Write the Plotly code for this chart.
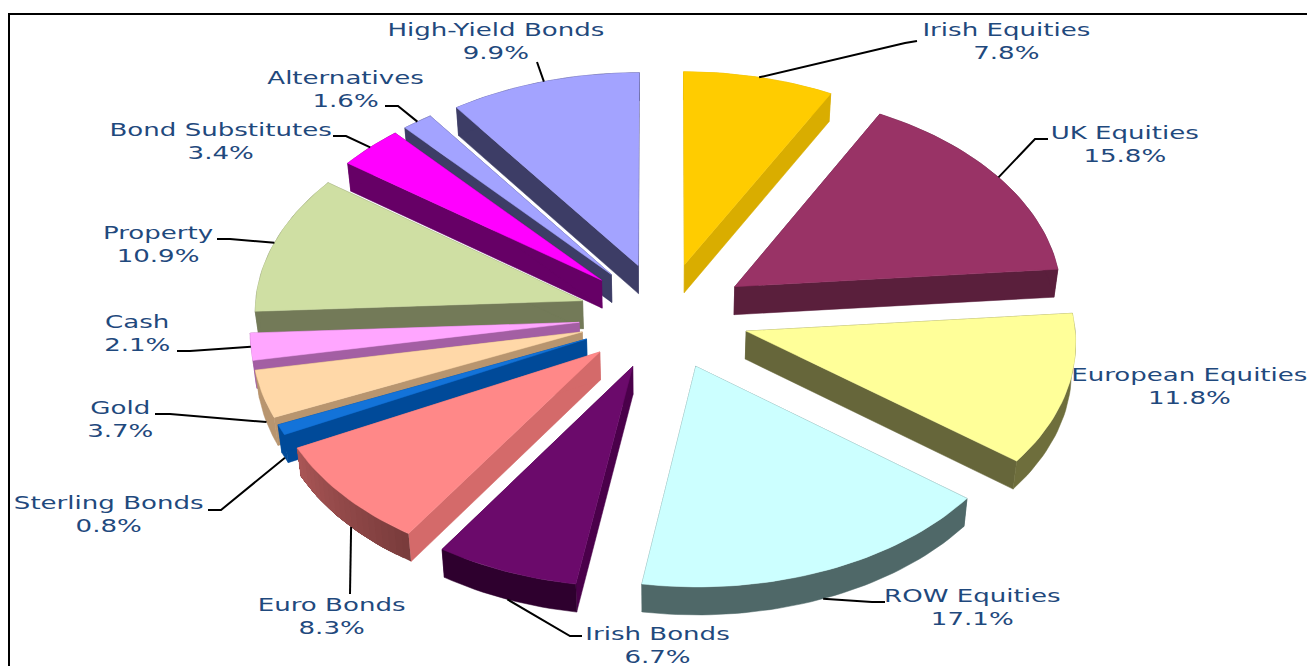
import math
import plotly.graph_objects as go

categories = ["Irish Equities", "UK Equities", "European Equities", "ROW Equities", "Irish Bonds",
              "Euro Bonds", "Sterling Bonds", "Gold", "Cash", "Property", "Bond Substitutes",
              "Alternatives", "High-Yield Bonds"]
values = [7.8, 15.8, 11.8, 17.1, 6.7, 8.3, 0.8, 3.7, 2.1, 10.9, 3.4, 1.6, 9.9]

top_colors = ["#FFCC00", "#993366", "#FFFF99", "#CCFFFF", "#6B0A6B", "#FF8888", "#1373D9",
              "#FFD8A8", "#FFA6FF", "#CFDFA3", "#FF00FF", "#A3A3FF", "#A3A3FF"]
wall_colors = ["#D9AD00", "#5A1F3C", "#66663A", "#506A6A", "#4A004A", "#D46A6A", "#004A99",
               "#B8956F", "#A35FA3", "#737A58", "#660066", "#3D3D66", "#3D3D66"]
arc_colors = ["#D9AD00", "#5A1F3C", "#6E6E3C", "#4F6868", "#2E002E", "#A85555", "#004A99",
              "#B8956F", "#A35FA3", "#737A58", "#660066", "#3D3D66", "#3D3D66"]
arc_end_colors = {"Euro Bonds": "#7A3C3C"}

# projection of the tilted pie onto the page
CX, CY, RX, RY, PERSP, PULL, DEPTH, SIDE_SHRINK = 664, 316, 328, 206, 0.045, 0.26, 28, 0.99
TEXT = "#1F497D"

# label centre and leader elbows, by category
label_pos = {"Irish Equities": (1006, 41), "UK Equities": (1125, 144), "European Equities": (1189, 386),
             "ROW Equities": (972, 607), "Irish Bonds": (657, 645), "Euro Bonds": (331, 616),
             "Sterling Bonds": (108, 514), "Gold": (120, 419), "Cash": (137, 333), "Property": (158, 244),
             "Bond Substitutes": (220, 141), "Alternatives": (345, 89), "High-Yield Bonds": (496, 41)}
elbows = {"Irish Equities": [(905, 43), (917, 41)], "UK Equities": [(1035, 139), (1048, 139)],
          "ROW Equities": [(872, 602), (885, 602)], "Irish Bonds": [(570, 636), (582, 636)],
          "Euro Bonds": [(350, 594)], "Sterling Bonds": [(221, 510), (208, 510)],
          "Gold": [(170, 414), (155, 414)], "Cash": [(190, 351), (177, 351)],
          "Property": [(230, 239), (217, 239)], "Bond Substitutes": [(346, 136), (333, 136)],
          "Alternatives": [(398, 106), (385, 106)], "High-Yield Bonds": [(537, 62)]}
# where along its rim each leader leaves its slice (0 = start, 1 = end)
leader_frac = {"Euro Bonds": 0.46}
rim_only = {"Cash"}


def project(X, Y, drop=0.0):
    s = 1 / (1 + PERSP * Y)
    if drop:
        s *= SIDE_SHRINK
    return CX + RX * X * s, CY - RY * Y * s / (SIDE_SHRINK if drop else 1) + drop


def mix(c0, c1, t):
    a = [int(c0[i:i + 2], 16) for i in (1, 3, 5)]
    b = [int(c1[i:i + 2], 16) for i in (1, 3, 5)]
    return "#" + "".join(f"{round(p + (q - p) * t):02X}" for p, q in zip(a, b))


total = sum(values)
fig = go.Figure()
slices = []
cum = 0.0
for name, v, tc, wc, ac in zip(categories, values, top_colors, wall_colors, arc_colors):
    a0 = cum / total * 2 * math.pi
    cum += v
    a1 = cum / total * 2 * math.pi
    slices.append((name, v, a0, a1, tc, wc, ac))


def add_poly(pts, color, name, width=0.5):
    xs = [p[0] for p in pts] + [pts[0][0]]
    ys = [p[1] for p in pts] + [pts[0][1]]
    fig.add_trace(go.Scatter(x=xs, y=ys, mode="lines", fill="toself", fillcolor=color,
                             line=dict(color=color, width=width), name=name,
                             hoverinfo="skip", showlegend=False))


for name, v, a0, a1, tc, wc, ac in sorted(slices, key=lambda s: -math.cos((s[2] + s[3]) / 2)):
    mid = (a0 + a1) / 2
    ox, oy = PULL * math.sin(mid), PULL * math.cos(mid)
    n = max(4, int((a1 - a0) * 40))
    ring = [(ox + math.sin(a0 + (a1 - a0) * i / n), oy + math.cos(a0 + (a1 - a0) * i / n)) for i in range(n + 1)]
    apex = (ox, oy)
    top = [project(*apex)] + [project(*p) for p in ring]
    w0 = [project(*apex), project(*ring[0]), project(*ring[0], DEPTH), project(*apex, DEPTH)]
    w1 = [project(*apex), project(*ring[-1]), project(*ring[-1], DEPTH), project(*apex, DEPTH)]
    add_poly(w0, wc, name)
    add_poly(w1, wc, name)
    if name in arc_end_colors:
        # painted from the far end with each band reaching all the way across, so no seams show
        for i in range(n):
            band = ring[i:]
            seg = [project(*p) for p in band] + [project(*p, DEPTH) for p in reversed(band)]
            add_poly(seg, mix(arc_end_colors[name], ac, i / (n - 1)), name, width=0)
    else:
        arc = [project(*p) for p in ring] + [project(*p, DEPTH) for p in reversed(ring)]
        add_poly(arc, ac, name)
    add_poly(top, tc, name)

annotations = []
for name, v, a0, a1, *_ in slices:
    lx, ly = label_pos[name]
    annotations.append(dict(x=lx, y=ly, xref="x", yref="y", showarrow=False, xanchor="center",
                            yanchor="middle", text=f"{name}<br>{v:.1f}%",
                            font=dict(family="DejaVu Sans", size=17.5, color=TEXT)))
    if name in elbows:
        mid = (a0 + a1) / 2
        ang = a0 + (a1 - a0) * leader_frac.get(name, 0.5)
        X = PULL * math.sin(mid) + math.sin(ang)
        Y = PULL * math.cos(mid) + math.cos(ang)
        start = project(X, Y, DEPTH if (Y < 0 and name not in rim_only) else 0)
        pts = [start] + elbows[name]
        fig.add_trace(go.Scatter(x=[p[0] for p in pts], y=[p[1] for p in pts], mode="lines",
                                 line=dict(color="black", width=2), hoverinfo="skip", showlegend=False))

# frame
fig.add_trace(go.Scatter(x=[9, 9, 1307], y=[666, 14, 14], mode="lines", line=dict(color="black", width=2),
                         hoverinfo="skip", showlegend=False))

fig.update_layout(width=1307, height=666, margin=dict(l=0, r=0, t=0, b=0), paper_bgcolor="white",
                  plot_bgcolor="white", annotations=annotations, showlegend=False,
                  xaxis=dict(range=[0, 1307], visible=False),
                  yaxis=dict(range=[666, 0], visible=False))

post = """
document.body.style.margin='0';document.documentElement.style.overflow='hidden';
var st=document.createElement('style');
st.textContent='.annotation-text{transform-box:fill-box;transform-origin:center;transform:scaleX(1.49);}';
document.head.appendChild(st);
"""
fig.write_html("out.html", post_script=post, config={"displayModeBar": False})
